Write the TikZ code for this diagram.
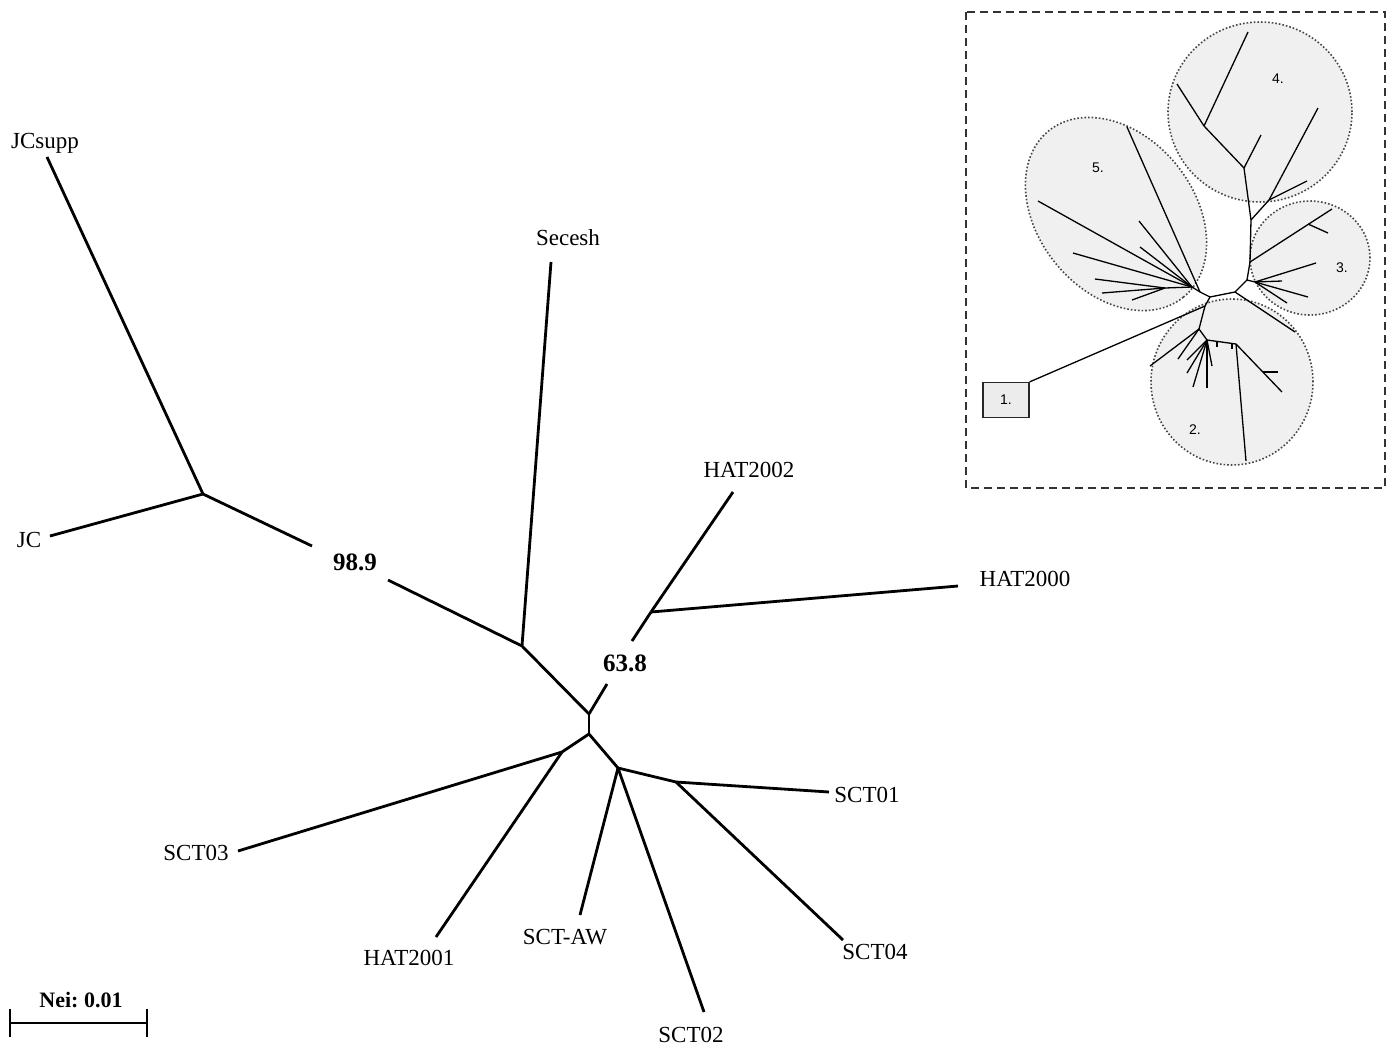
\documentclass[tikz,border=0pt]{standalone}
\usepackage{fontspec}
\setmainfont{Liberation Serif}
\setsansfont{Liberation Sans}
\begin{document}
\begin{tikzpicture}[x=0.5pt,y=-0.5pt,
  branch/.style={line width=1.4pt, line join=round},
  leaflab/.style={font=\fontsize{11.5}{13}\selectfont, inner sep=0pt},
  boot/.style={font=\bfseries\fontsize{12.5}{14}\selectfont, inner sep=0pt},
  mini/.style={line width=0.65pt, line join=round},
  clus/.style={fill=gray!12, draw=gray!55!black, densely dotted, line width=0.8pt},
  clab/.style={font=\sffamily\fontsize{7}{8}\selectfont, inner sep=0pt},
  frame/.style={draw=black!80, line width=0.8pt, dash pattern=on 4pt off 2.5pt}]
\useasboundingbox (0,0) rectangle (1389,1046);

% ---------------- main tree ----------------
\coordinate (JCsuppEnd) at (47,157);
\coordinate (JCEnd) at (50,536);
\coordinate (nA) at (203,494);
\coordinate (a1) at (312,546);
\coordinate (a2) at (388,580);
\coordinate (nB) at (522,646);
\coordinate (SeceshEnd) at (551,262);
\coordinate (nC) at (589,714);
\coordinate (nE) at (589,734);
\coordinate (c1) at (607,684);
\coordinate (c2) at (632,641);
\coordinate (nD) at (651,612);
\coordinate (HAT2002End) at (733,492);
\coordinate (HAT2000End) at (958,586);
\coordinate (nS) at (562,752);
\coordinate (SCT03End) at (238,851);
\coordinate (HAT2001End) at (436,937);
\coordinate (nF) at (618,768);
\coordinate (SCTAWEnd) at (580,915);
\coordinate (SCT02End) at (704,1012);
\coordinate (nG) at (676,782);
\coordinate (SCT01End) at (829,792);
\coordinate (SCT04End) at (843,940);

\draw[branch] (JCsuppEnd) -- (nA);
\draw[branch] (JCEnd) -- (nA);
\draw[branch] (nA) -- (a1);
\draw[branch] (a2) -- (nB);
\draw[branch] (SeceshEnd) -- (nB);
\draw[branch] (nB) -- (nC);
\draw[branch] (nC) -- (nE);
\draw[branch] (nC) -- (c1);
\draw[branch] (c2) -- (nD);
\draw[branch] (nD) -- (HAT2002End);
\draw[branch] (nD) -- (HAT2000End);
\draw[branch] (nE) -- (nS);
\draw[branch] (nS) -- (SCT03End);
\draw[branch] (nS) -- (HAT2001End);
\draw[branch] (nE) -- (nF);
\draw[branch] (nF) -- (SCTAWEnd);
\draw[branch] (nF) -- (SCT02End);
\draw[branch] (nF) -- (nG);
\draw[branch] (nG) -- (SCT01End);
\draw[branch] (nG) -- (SCT04End);

\node[leaflab] (lJCsupp) at (45,143) {JCsupp};
\node[leaflab] (lJC) at (29,540) {JC};
\node[leaflab] (lSecesh) at (568,238) {Secesh};
\node[leaflab] (lHAT2002) at (749,470) {HAT2002};
\node[leaflab] (lHAT2000) at (1025,579) {HAT2000};
\node[leaflab] (lSCT03) at (196,853) {SCT03};
\node[leaflab] (lHAT2001) at (409,958) {HAT2001};
\node[leaflab] (lSCTAW) at (565,937) {SCT-AW};
\node[leaflab] (lSCT02) at (691,1035) {SCT02};
\node[leaflab] (lSCT01) at (867,795) {SCT01};
\node[leaflab] (lSCT04) at (875,952) {SCT04};
\node[boot] (b989) at (355,562) {98.9};
\node[boot] (b638) at (625,663) {63.8};

% scale bar
\coordinate (sL) at (10,1023);
\coordinate (sR) at (147,1023);
\draw[line width=0.8pt] (sL) -- (sR);
\draw[line width=0.8pt] ([yshift=7pt]sL) -- ([yshift=-7pt]sL);
\draw[line width=0.8pt] ([yshift=7pt]sR) -- ([yshift=-7pt]sR);
\node[font=\bfseries\fontsize{11}{13}\selectfont, inner sep=0pt] (nei) at (81,1000) {Nei:\ 0.01};

% ---------------- inset ----------------
\draw[frame] (966,12) rectangle (1385,488);

\draw[clus] (1260,112) ellipse [x radius=46pt, y radius=45pt];
\draw[clus, shift={(1116,214)}, rotate=-51] (0,0) ellipse [x radius=53.5pt, y radius=39pt];
\draw[clus] (1310,258) ellipse [x radius=30pt, y radius=28.5pt];
\draw[clus] (1232,382) ellipse [x radius=40.5pt, y radius=41.5pt];

\node[clab] (c4) at (1278,79) {4.};
\node[clab] (c5) at (1098,168) {5.};
\node[clab] (c3) at (1342,268) {3.};
\node[clab] (c2lab) at (1195,430) {2.};
\node[draw=black!85, fill=gray!15, line width=0.6pt, minimum width=23pt, minimum height=17.5pt, inner sep=0pt, font=\sffamily\fontsize{7}{8}\selectfont] (box1) at (1006,400) {1.};

% inner nodes
\coordinate (N0) at (1235,292);
\coordinate (N1) at (1210,297);
\coordinate (N2) at (1205,306);
\coordinate (T) at (1247,280);
\coordinate (N3) at (1255,282);
\coordinate (K3) at (1250,262);
\coordinate (K3b) at (1308,224);
\coordinate (K4) at (1251,220);
\coordinate (K4b) at (1269,200);
\coordinate (J4a) at (1244,168);
\coordinate (J4b) at (1204,126);
\coordinate (C5b) at (1200,292);
\coordinate (C5a) at (1192,287);
\coordinate (S5) at (1165,288);
\coordinate (Q1) at (1199,329);
\coordinate (Q2) at (1207,340);
\coordinate (Q3) at (1236,344);
\coordinate (Q4) at (1263,372);
% leaves
\coordinate (L31) at (1332,209);
\coordinate (L32) at (1328,233);
\coordinate (L33) at (1316,263);
\coordinate (L34) at (1282,281);
\coordinate (L35) at (1308,297);
\coordinate (L36) at (1287,303);
\coordinate (L41) at (1318,108);
\coordinate (L42) at (1307,181);
\coordinate (L43) at (1261,135);
\coordinate (L44) at (1248,32);
\coordinate (L45) at (1177,84);
\coordinate (L51) at (1127,127);
\coordinate (L52) at (1038,201);
\coordinate (L53) at (1139,221);
\coordinate (L54) at (1140,247);
\coordinate (L55) at (1073,253);
\coordinate (L56) at (1095,279);
\coordinate (L57) at (1102,293);
\coordinate (L58) at (1132,300);
\coordinate (L21) at (1295,332);
\coordinate (L22) at (1150,366);
\coordinate (L23) at (1178,359);
\coordinate (L24) at (1207,388);
\coordinate (L25) at (1193,387);
\coordinate (L26) at (1212,366);
\coordinate (L27) at (1187,360);
\coordinate (L28) at (1187,373);
\coordinate (L29) at (1282,392);
\coordinate (L2a) at (1278,372);
\coordinate (L2b) at (1246,461);
\coordinate (tk1) at (1217,342);
\coordinate (tk1e) at (1217,347);
\coordinate (tk2) at (1232,344);
\coordinate (tk2e) at (1232,349);

% backbone
\draw[mini] (C5a) -- (C5b) -- (N1) -- (N0) -- (T) -- (N3);
\draw[mini] (T) -- (K3) -- (K4) -- (J4a) -- (J4b);
\draw[mini] (N1) -- (N2) -- (box1.north east);
% cluster 3
\draw[mini] (K3) -- (L31);
\draw[mini] (K3b) -- (L32);
\draw[mini] (N3) -- (L33);
\draw[mini] (N3) -- (L34);
\draw[mini] (N3) -- (L35);
\draw[mini] (N3) -- (L36);
% cluster 4
\draw[mini] (K4) -- (K4b) -- (L41);
\draw[mini] (K4b) -- (L42);
\draw[mini] (J4a) -- (L43);
\draw[mini] (J4b) -- (L44);
\draw[mini] (J4b) -- (L45);
% cluster 5
\draw[mini] (C5b) -- (L51);
\draw[mini] (C5a) -- (L52);
\draw[mini] (C5a) -- (L53);
\draw[mini] (C5a) -- (L54);
\draw[mini] (C5a) -- (L55);
\draw[mini] (C5a) -- (S5);
\draw[mini] (S5) -- (L56);
\draw[mini] (S5) -- (L57);
\draw[mini] (S5) -- (L58);
% cluster 2
\draw[mini] (N0) -- (L21);
\draw[mini] (N2) -- (Q1) -- (Q2) -- (Q3);
\draw[mini] (Q1) -- (L22);
\draw[mini] (Q1) -- (L23);
\draw[mini] (Q2) -- (L24);
\draw[mini] (Q2) -- (L25);
\draw[mini] (Q2) -- (L26);
\draw[mini] (Q2) -- (L27);
\draw[mini] (Q2) -- (L28);
\draw[mini] (Q3) -- (L29);
\draw[mini] (Q4) -- (L2a);
\draw[mini] (Q3) -- (L2b);
\draw[mini] (tk1) -- (tk1e);
\draw[mini] (tk2) -- (tk2e);
\end{tikzpicture}
\end{document}
